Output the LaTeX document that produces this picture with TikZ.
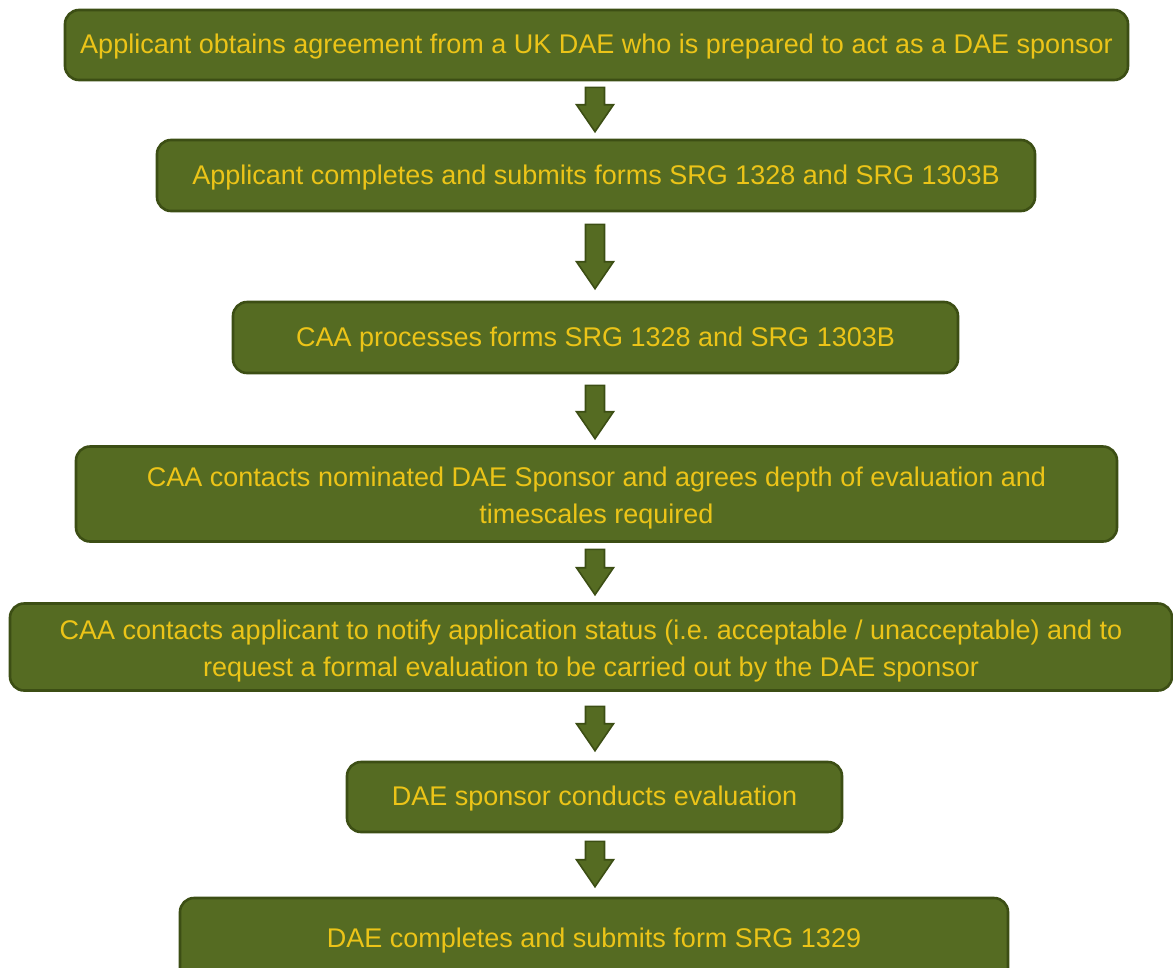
\documentclass[tikz,border=0pt]{standalone}
\usepackage{fontspec}
\setmainfont{Liberation Sans}
\usetikzlibrary{calc}
\definecolor{boxfill}{RGB}{85,107,34}
\definecolor{boxedge}{RGB}{60,78,20}
\definecolor{boxtext}{RGB}{236,196,24}
\tikzset{
  stepbox/.style={draw=boxedge, line width=2.6pt, fill=boxfill, rounded corners=14pt, inner sep=0pt},
  steptext/.style={text=boxtext, font=\fontsize{27}{37}\selectfont, align=center, inner sep=0pt},
  arrowsty/.style={draw=boxedge, line width=1.6pt, fill=boxfill, line join=miter}
}
\newcommand\blockarrow[2]{%
  \draw[arrowsty] let \p1=(#1), \p2=(#2) in
    (\x1-9.5pt,\y1) -- (\x1+9.5pt,\y1) -- (\x1+9.5pt,\y2+27pt) -- (\x1+18.5pt,\y2+27pt)
    -- (\x1,\y2) -- (\x1-18.5pt,\y2+27pt) -- (\x1-9.5pt,\y2+27pt) -- cycle;}
\begin{document}
\begin{tikzpicture}[x=1pt,y=1pt]
\useasboundingbox (0,0) rectangle (1173,-967);
\coordinate (ax) at (595,0);
\node[stepbox, minimum width=1063pt, minimum height=70pt,
  label={[steptext, yshift=-2pt]center:Applicant obtains agreement from a UK DAE who is prepared to act as a DAE sponsor}]
  (b1) at (596.5,-45) {};
\node[stepbox, minimum width=878pt, minimum height=71pt,
  label={[steptext, yshift=-2pt]center:Applicant completes and submits forms SRG 1328 and SRG 1303B}]
  (b2) at (596,-175.5) {};
\node[stepbox, minimum width=725pt, minimum height=71pt,
  label={[steptext, yshift=-2pt]center:CAA processes forms SRG 1328 and SRG 1303B}]
  (b3) at (595.5,-337.5) {};
\node[stepbox, minimum width=1041pt, minimum height=95pt,
  label={[steptext, yshift=-4pt]center:{CAA contacts nominated DAE Sponsor and agrees depth of evaluation and\\timescales required}}]
  (b4) at (596.5,-494) {};
\node[stepbox, minimum width=1162pt, minimum height=87pt,
  label={[steptext, yshift=-4pt]center:{CAA contacts applicant to notify application status (i.e.\ acceptable / unacceptable) and to\\request a formal evaluation to be carried out by the DAE sponsor}}]
  (b5) at (591,-647) {};
\node[stepbox, minimum width=495pt, minimum height=70pt,
  label={[steptext, yshift=-2pt]center:DAE sponsor conducts evaluation}]
  (b6) at (594.5,-797) {};
\node[stepbox, minimum width=828pt, minimum height=84pt,
  label={[steptext, yshift=-1pt]center:DAE completes and submits form SRG 1329}]
  (b7) at (594,-940) {};
\coordinate (a1s) at ([yshift=-6pt]b1.south -| ax);  \coordinate (a1e) at ([yshift=7pt]b2.north -| ax);
\coordinate (a2s) at ([yshift=-12pt]b2.south -| ax); \coordinate (a2e) at ([yshift=12pt]b3.north -| ax);
\coordinate (a3s) at ([yshift=-11pt]b3.south -| ax); \coordinate (a3e) at ([yshift=6.5pt]b4.north -| ax);
\coordinate (a4s) at ([yshift=-6.5pt]b4.south -| ax); \coordinate (a4e) at ([yshift=7.5pt]b5.north -| ax);
\coordinate (a5s) at ([yshift=-14.5pt]b5.south -| ax); \coordinate (a5e) at ([yshift=10pt]b6.north -| ax);
\coordinate (a6s) at ([yshift=-8pt]b6.south -| ax); \coordinate (a6e) at ([yshift=10pt]b7.north -| ax);
\blockarrow{a1s}{a1e}
\blockarrow{a2s}{a2e}
\blockarrow{a3s}{a3e}
\blockarrow{a4s}{a4e}
\blockarrow{a5s}{a5e}
\blockarrow{a6s}{a6e}
\end{tikzpicture}
\end{document}
